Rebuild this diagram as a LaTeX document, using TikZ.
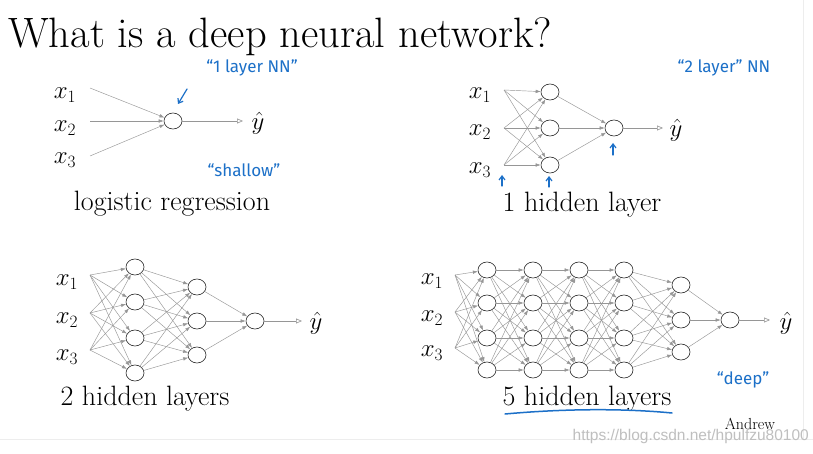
\documentclass[tikz,border=0pt]{standalone}
\usepackage{fontspec}
\usetikzlibrary{shapes.geometric,arrows.meta}
\newfontfamily\handfont{Fira Sans}
\newfontfamily\wmfont{Liberation Sans}
\definecolor{ink}{RGB}{28,112,200}
\definecolor{edgegray}{RGB}{150,150,150}
\tikzset{
 neuron/.style={draw=black!85, ellipse, minimum width=18pt, minimum height=16pt, inner sep=0pt, line width=0.6pt},
 wire/.style={draw=edgegray, line width=0.45pt, -{Latex[length=5pt,width=3.5pt]}},
 outwire/.style={draw=edgegray, line width=0.6pt, -{Triangle[open,length=6pt,width=5pt]}},
 inlabel/.style={font=\fontsize{23}{26}\selectfont, inner sep=0pt},
 caption/.style={font=\fontsize{28}{32}\selectfont, inner sep=0pt},
 hand/.style={text=ink, font=\handfont\fontsize{17}{20}\selectfont, inner sep=0pt},
 handarrow/.style={draw=ink, line width=1.2pt, -{Straight Barb[length=4pt,width=6pt]}, line cap=round},
}
\begin{document}
\begin{tikzpicture}[x=1pt,y=-1pt]
\useasboundingbox (0,0) rectangle (813,454);
\fill[white] (0,0) rectangle (813,454);
\draw[black!7, line width=1pt] (0,439) -- (813,439);
\draw[black!7, line width=1pt] (803,0) -- (803,439);

% title
\node[anchor=base west, inner sep=0pt, font=\fontsize{42.5}{48}\selectfont] (title) at (8,48) {What is a deep neural network?};

% ---------- panel 1: logistic regression
\node[neuron] (a) at (173,121) {};
\foreach \i/\y in {1/88,2/121,3/156} \coordinate (a0-\i) at (90,\y);
\foreach \i in {1,2,3} \draw[wire] (a0-\i) -- (a);
\coordinate (ay) at (243,121);
\draw[outwire] (a) -- (ay);
\node[inlabel] (ayl) at (258,123) {$\hat y$};
\foreach \i/\y in {1/95,2/128,3/160} \node[inlabel] (ax\i) at (65,\y) {$x_\i$};
\node[caption] (c1) at (172,204) {logistic regression};

% ---------- panel 2: 1 hidden layer
\foreach \i/\y in {1/90,2/128,3/165} \coordinate (b0-\i) at (504,\y);
\foreach \i/\y in {1/92,2/128,3/165} \node[neuron] (b1-\i) at (550,\y) {};
\node[neuron] (b2-1) at (614,128) {};
\foreach \i in {1,2,3} \foreach \j in {1,2,3} \draw[wire] (b0-\i) -- (b1-\j);
\foreach \i in {1,2,3} \draw[wire] (b1-\i) -- (b2-1);
\coordinate (by) at (663,128);
\draw[outwire] (b2-1) -- (by);
\node[inlabel] (byl) at (676,130) {$\hat y$};
\foreach \i/\y in {1/95,2/132,3/170} \node[inlabel] (bx\i) at (480,\y) {$x_\i$};
\node[caption] (c2) at (582,205) {1 hidden layer};

% ---------- panel 3: 2 hidden layers
\foreach \i/\y in {1/275,2/313,3/350} \coordinate (c0-\i) at (90,\y);
\foreach \i/\y in {1/267,2/302,3/338,4/373} \node[neuron] (c1-\i) at (135,\y) {};
\foreach \i/\y in {1/287,2/321,3/355} \node[neuron] (c2-\i) at (197,\y) {};
\node[neuron] (c3-1) at (255,321) {};
\foreach \i in {1,2,3} \foreach \j in {1,...,4} \draw[wire] (c0-\i) -- (c1-\j);
\foreach \i in {1,...,4} \foreach \j in {1,2,3} \draw[wire] (c1-\i) -- (c2-\j);
\foreach \i in {1,2,3} \draw[wire] (c2-\i) -- (c3-1);
\coordinate (cy) at (302,321);
\draw[outwire] (c3-1) -- (cy);
\node[inlabel] (cyl) at (316,323) {$\hat y$};
\foreach \i/\y in {1/282,2/320,3/357} \node[inlabel] (cx\i) at (67,\y) {$x_\i$};
\node[caption] (c3) at (145,399) {2 hidden layers};

% ---------- panel 4: 5 hidden layers
\foreach \i/\y in {1/275,2/312,3/348} \coordinate (d0-\i) at (455,\y);
\foreach \l/\x in {1/487,2/533,3/579,4/624}
  \foreach \i/\y in {1/270,2/303,3/338,4/370} \node[neuron] (d\l-\i) at (\x,\y) {};
\foreach \i/\y in {1/285,2/320,3/352} \node[neuron] (d5-\i) at (681,\y) {};
\node[neuron] (d6-1) at (730,320) {};
\foreach \i in {1,2,3} \foreach \j in {1,...,4} \draw[wire] (d0-\i) -- (d1-\j);
\foreach \l/\m in {1/2,2/3,3/4} \foreach \i in {1,...,4} \foreach \j in {1,...,4} \draw[wire] (d\l-\i) -- (d\m-\j);
\foreach \i in {1,...,4} \foreach \j in {1,2,3} \draw[wire] (d4-\i) -- (d5-\j);
\foreach \i in {1,2,3} \draw[wire] (d5-\i) -- (d6-1);
\coordinate (dy) at (770,320);
\draw[outwire] (d6-1) -- (dy);
\node[inlabel] (dyl) at (786,323) {$\hat y$};
\foreach \i/\y in {1/281,2/318,3/353} \node[inlabel] (dx\i) at (432,\y) {$x_\i$};
\node[caption] (c4) at (587,399) {5 hidden layers};

% ---------- handwritten annotations
\node[hand] (h1) at (252,68) {“1 layer NN”};
\coordinate (h1a) at (187,89);
\coordinate (h1b) at (178,104);
\draw[handarrow] (h1a) -- (h1b);
\node[hand] (h2) at (244,170) {“shallow”};
\node[hand] (h3) at (724,68) {“2 layer” NN};
\coordinate (u1a) at (502,186); \coordinate (u1b) at (502,175);
\coordinate (u2a) at (549,187); \coordinate (u2b) at (549,176);
\coordinate (u3a) at (613,155); \coordinate (u3b) at (613,143);
\draw[handarrow] (u1a) -- (u1b);
\draw[handarrow] (u2a) -- (u2b);
\draw[handarrow] (u3a) -- (u3b);
\node[hand] (h4) at (743,380) {“deep”};
\coordinate (ul1) at (505,414);
\coordinate (ul2) at (672,413);
\draw[ink, line width=1.5pt, line cap=round] (ul1) .. controls (560,409) and (620,408) .. (ul2);

% ---------- footer
\node[inner sep=0pt, font=\fontsize{16}{18}\selectfont] (andrew) at (750,424) {Andrew};
\node[inner sep=0pt, anchor=east, text=black!25, font=\wmfont\fontsize{15.5}{17}\selectfont] (wm) at (809,436) {https://blog.csdn.net/hpulfzu80100};
\end{tikzpicture}
\end{document}
